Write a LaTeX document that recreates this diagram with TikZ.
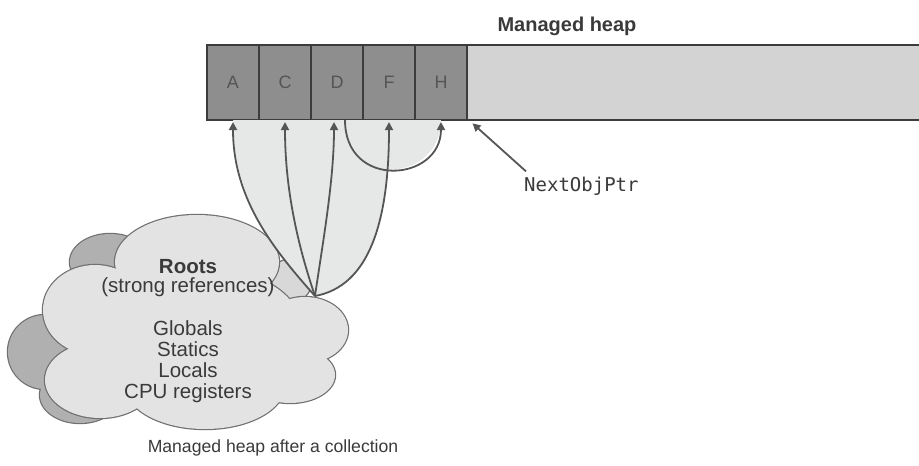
\documentclass[tikz,border=0pt]{standalone}
\usepackage{fontspec}
\setmainfont{Liberation Sans}
\newfontfamily\monofont{DejaVu Sans Mono}
\usetikzlibrary{arrows.meta,calc}
\definecolor{cellfill}{HTML}{8E8E8E}
\definecolor{freefill}{HTML}{D3D3D3}
\definecolor{cellline}{HTML}{3C3C3C}
\definecolor{celltext}{HTML}{555555}
\definecolor{arrowcol}{HTML}{555555}
\definecolor{textcol}{HTML}{3A3A3A}
\definecolor{fanfill}{HTML}{E6E8E8}
\definecolor{frontfill}{HTML}{E3E3E3}
\definecolor{backfill}{HTML}{B0B0B0}
\definecolor{bumpfill}{HTML}{D8D8D8}
\definecolor{cloudline}{HTML}{707070}
\begin{document}
\begin{tikzpicture}[x=1pt,y=-1pt,
  cell/.style={draw=cellline, fill=cellfill, line width=1.5pt, minimum width=52pt, minimum height=75pt, inner sep=0pt, outer sep=0pt, text=celltext, font=\fontsize{18}{18}\selectfont},
  ref/.style={draw=arrowcol, line width=1.8pt, -{Triangle[length=8pt,width=8pt]}, shorten >=2pt},
  lbl/.style={inner sep=0pt, anchor=base, text=textcol},
  rootsfont/.style={font=\fontsize{20.5}{21}\selectfont}]
\useasboundingbox (0,0) rectangle (919,466);

% heap
\node[lbl, font=\bfseries\fontsize{20}{20}\selectfont] (title) at (567,31) {Managed heap};
\node[fill=freefill, minimum width=454pt, minimum height=75pt, inner sep=0pt, outer sep=0pt, anchor=west] (free) at (465,82.5) {};
\draw[cellline, line width=1.5pt] (free.north west) -- (free.north east);
\draw[cellline, line width=2pt] (free.south west) -- (free.south east);
\node[cell] (A) at (233,82.5) {A};
\node[cell] (C) at (285,82.5) {C};
\node[cell] (D) at (337,82.5) {D};
\node[cell] (F) at (389,82.5) {F};
\node[cell] (H) at (441,82.5) {H};

% cloud: back layer
\begin{scope}
\foreach \cx/\cy/\rx/\ry in {45/352/37/37, 110/262/40/28, 80/395/40/28, 150/300/90/60}
  \draw[cloudline, line width=2.4pt] (\cx,\cy) ellipse [x radius=\rx, y radius=\ry];
\foreach \cx/\cy/\rx/\ry in {45/352/37/37, 110/262/40/28, 80/395/40/28, 150/300/90/60}
  \fill[backfill] (\cx,\cy) ellipse [x radius=\rx, y radius=\ry];
\draw[cloudline, line width=1.2pt, fill=bumpfill] (290,281) ellipse [x radius=22, y radius=22];
\end{scope}
% cloud: front layer
\begin{scope}
\foreach \cx/\cy/\rx/\ry in {197/262/82/47, 95/310/52/45, 305/330/43/33, 290/375/45/28, 205/385/80/44, 100/380/55/38, 190/325/110/60}
  \draw[cloudline, line width=2.4pt] (\cx,\cy) ellipse [x radius=\rx, y radius=\ry];
\foreach \cx/\cy/\rx/\ry in {197/262/82/47, 95/310/52/45, 305/330/43/33, 290/375/45/28, 205/385/80/44, 100/380/55/38, 190/325/110/60}
  \fill[frontfill] (\cx,\cy) ellipse [x radius=\rx, y radius=\ry];
\end{scope}

% roots text
\node[lbl, rootsfont, font=\bfseries\fontsize{20.5}{21}\selectfont] (r1) at (188,273) {Roots};
\node[lbl, rootsfont] (r2) at (188,292) {(strong references)};
\node[lbl, rootsfont] (r3) at (188,335) {Globals};
\node[lbl, rootsfont] (r4) at (188,356) {Statics};
\node[lbl, rootsfont] (r5) at (188,377) {Locals};
\node[lbl, rootsfont] (r6) at (188,398) {CPU registers};

% origin of references
\coordinate (o) at (315,296);
\coordinate (dA) at ($(D.south)+(-3,0)$);
\coordinate (dB) at ($(D.south)+(8,0)$);

% fan fill
\fill[fanfill] (o) .. controls +(-40,-45) and +(0,80) .. (A.south) -- (F.south) .. controls +(0,100) and +(55,-10) .. (o) -- cycle;
\fill[fanfill] (dB) .. controls +(0,70) and +(0,62) .. (H.south) -- cycle;

% references
\draw[ref] (o) .. controls +(-40,-45) and +(0,80) .. (A.south);
\draw[ref] (o) .. controls +(-17,-50) and +(0,70) .. (C.south);
\draw[ref] (o) .. controls +(8,-55) and +(0,60) .. (dA);
\draw[ref] (o) .. controls +(55,-10) and +(0,100) .. (F.south);
\draw[ref] (dB) .. controls +(0,70) and +(0,62) .. (H.south);

% NextObjPtr
\node[inner sep=0pt, anchor=base west, text=textcol, font=\monofont\fontsize{19}{19}\selectfont] (nop) at (524,191) {NextObjPtr};
\draw[ref] ($(nop.north west)+(2,-5)$) -- ($(free.south west)+(6,2)$);

% caption
\node[lbl, font=\fontsize{17.6}{18}\selectfont] (cap) at (273,452) {Managed heap after a collection};
\end{tikzpicture}
\end{document}
